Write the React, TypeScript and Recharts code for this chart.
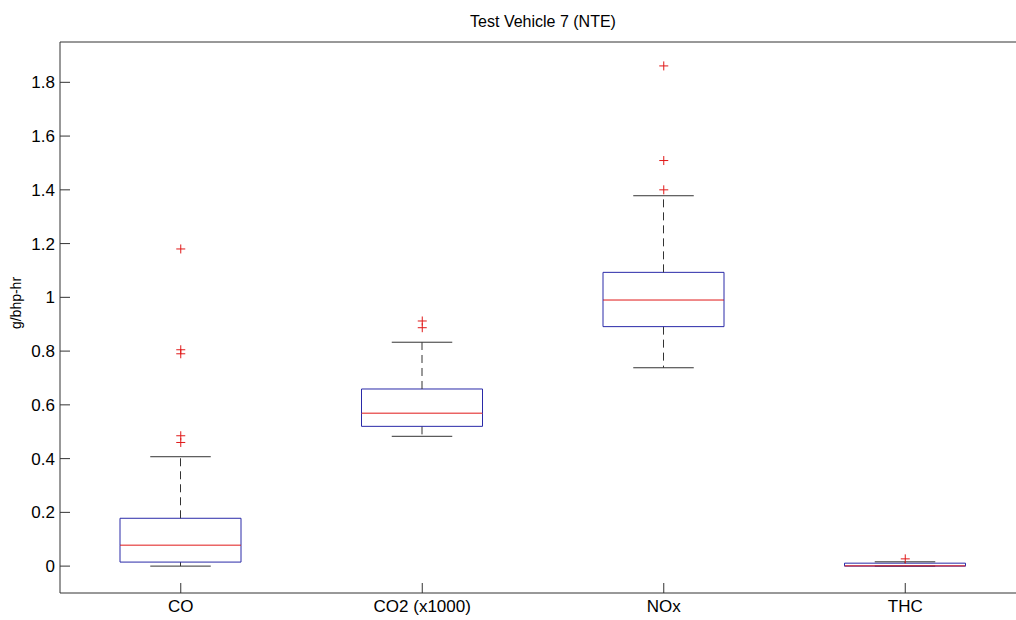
import { Bar, ComposedChart, Scatter, XAxis, YAxis } from 'recharts';

const categories = ['CO', 'CO2 (x1000)', 'NOx', 'THC'];
const lowerWhisker = [0, 0.483, 0.738, 0];
const q1 = [0.015, 0.52, 0.891, 0];
const median = [0.078, 0.569, 0.99, 0.001];
const q3 = [0.178, 0.659, 1.093, 0.011];
const upperWhisker = [0.407, 0.833, 1.378, 0.016];
const outliers = [
    [1.18, 0.805, 0.79, 0.485, 0.46],
    [0.912, 0.887],
    [1.861, 1.509, 1.4],
    [0.027],
];
const yTicks = [0, 0.2, 0.4, 0.6, 0.8, 1, 1.2, 1.4, 1.6, 1.8];

const FONT = '"Liberation Sans", Arial, sans-serif';
const BOX = '#2a2aa8';
const MED = '#e01818';
const WHISK = '#333';

const data = categories.map((cat, i) => ({
    cat,
    base: lowerWhisker[i],
    lowW: q1[i] - lowerWhisker[i],
    lowBox: median[i] - q1[i],
    highBox: q3[i] - median[i],
    highW: upperWhisker[i] - q3[i],
}));

const outlierPoints = categories.flatMap((cat, i) => outliers[i].map((v) => ({ cat, v })));

const LowWhisker = ({ x, y, width, height }: any) => {
    const cx = x + width / 2;
    return (
        <g>
            <line x1={cx} x2={cx} y1={y} y2={y + height} stroke={WHISK} strokeDasharray="8 5" />
            <line x1={x + width / 4} x2={x + (3 * width) / 4} y1={y + height} y2={y + height} stroke={WHISK} />
        </g>
    );
};

const HighWhisker = ({ x, y, width, height }: any) => {
    const cx = x + width / 2;
    return (
        <g>
            <line x1={cx} x2={cx} y1={y + height} y2={y} stroke={WHISK} strokeDasharray="8 5" />
            <line x1={x + width / 4} x2={x + (3 * width) / 4} y1={y} y2={y} stroke={WHISK} />
        </g>
    );
};

// lower half of the box: sides, bottom edge, red median on top
const LowBox = ({ x, y, width, height }: any) => (
    <g>
        <path d={`M${x},${y} V${y + height} H${x + width} V${y}`} fill="none" stroke={BOX} />
        <line x1={x} x2={x + width} y1={y} y2={y} stroke={MED} />
    </g>
);

const HighBox = ({ x, y, width, height }: any) => (
    <path d={`M${x},${y + height} V${y} H${x + width} V${y + height}`} fill="none" stroke={BOX} />
);

const Plus = ({ cx, cy }: any) => (
    <path d={`M${cx - 4.5},${cy} H${cx + 4.5} M${cx},${cy - 4.5} V${cy + 4.5}`} stroke={MED} fill="none" />
);

const tickStyle = { fontSize: 17, fill: '#000', fontFamily: FONT };

export default function App() {
    return (
        <div style={{ position: 'absolute', left: 0, top: 0, width: 1016, height: 620, overflow: 'hidden', background: '#fff' }}>
            <div
                style={{
                    position: 'absolute',
                    left: 543,
                    top: 14,
                    transform: 'translateX(-50%)',
                    fontFamily: FONT,
                    fontSize: 16,
                    lineHeight: '16px',
                    whiteSpace: 'nowrap',
                }}
            >
                Test Vehicle 7 (NTE)
            </div>
            <div
                style={{
                    position: 'absolute',
                    left: 16,
                    top: 303,
                    transform: 'translate(-50%, -50%) rotate(-90deg)',
                    fontFamily: FONT,
                    fontSize: 14,
                    lineHeight: '14px',
                    whiteSpace: 'nowrap',
                }}
            >
                g/bhp-hr
            </div>
            <ComposedChart
                width={1016}
                height={620}
                data={data}
                margin={{ top: 41, right: -11, bottom: 26, left: 59 }}
                barCategoryGap={0}
            >
                <XAxis
                    dataKey="cat"
                    allowDuplicatedCategory={false}
                    height={1}
                    tick={tickStyle}
                    tickSize={-10}
                    tickMargin={17}
                    axisLine={{ stroke: '#333' }}
                    tickLine={{ stroke: '#333' }}
                />
                <XAxis
                    xAxisId="top"
                    dataKey="cat"
                    orientation="top"
                    allowDuplicatedCategory={false}
                    height={1}
                    tick={false}
                    tickSize={-10}
                    axisLine={{ stroke: '#333' }}
                    tickLine={{ stroke: '#333' }}
                />
                <YAxis
                    domain={[-0.1, 1.95]}
                    ticks={yTicks}
                    type="number"
                    allowDataOverflow
                    width={1}
                    tick={tickStyle}
                    tickSize={-10}
                    tickMargin={15}
                    axisLine={{ stroke: '#333' }}
                    tickLine={{ stroke: '#333' }}
                />
                <YAxis
                    yAxisId="right"
                    orientation="right"
                    domain={[-0.1, 1.95]}
                    ticks={yTicks}
                    type="number"
                    allowDataOverflow
                    width={1}
                    tick={false}
                    tickSize={-10}
                    axisLine={{ stroke: '#333' }}
                    tickLine={{ stroke: '#333' }}
                />
                <Bar dataKey="base" stackId="box" barSize={121} fill="none" isAnimationActive={false} />
                <Bar dataKey="lowW" stackId="box" barSize={121} shape={<LowWhisker />} isAnimationActive={false} />
                <Bar dataKey="lowBox" stackId="box" barSize={121} shape={<LowBox />} isAnimationActive={false} />
                <Bar dataKey="highBox" stackId="box" barSize={121} shape={<HighBox />} isAnimationActive={false} />
                <Bar dataKey="highW" stackId="box" barSize={121} shape={<HighWhisker />} isAnimationActive={false} />
                <Scatter data={outlierPoints} dataKey="v" shape={<Plus />} isAnimationActive={false} />
            </ComposedChart>
        </div>
    );
}
